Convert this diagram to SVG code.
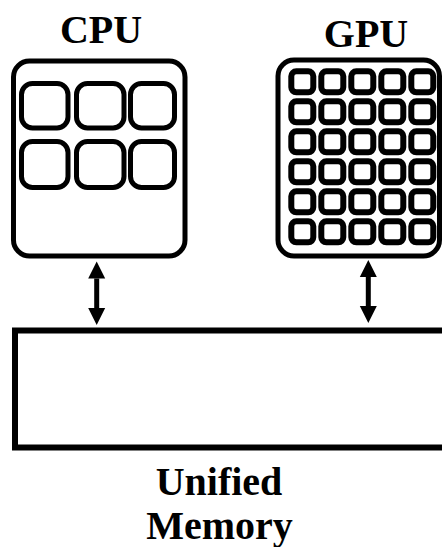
<svg xmlns="http://www.w3.org/2000/svg" width="442" height="547" viewBox="0 0 442 547">
  <style>
    .box { fill: #ffffff; stroke: #000000; stroke-width: 5; }
    .cell { fill: #ffffff; stroke: #000000; stroke-width: 5; }
    .gcell { fill: #ffffff; stroke: #000000; stroke-width: 6; }
    .label { font-family: "Liberation Serif", "Times New Roman", serif; font-weight: bold; font-size: 40px; fill: #000000; text-anchor: middle; }
    .conn { stroke: #000000; stroke-width: 5; fill: none; }
  </style>
  <defs>
    <marker id="head" markerUnits="userSpaceOnUse" markerWidth="18" markerHeight="18" viewBox="0 -9 18 18" refX="0" refY="0" orient="auto-start-reverse">
      <path d="M0,-8.5 L17,0 L0,8.5 z" fill="#000000"/>
    </marker>
  </defs>
  <rect width="442" height="547" fill="#ffffff"/>

  <g id="cpu">
    <text class="label" x="101" y="43">CPU</text>
    <rect class="box" x="13.5" y="61" width="171.5" height="195" rx="16"/>
    <rect class="cell" x="21.5" y="83.5" width="46.5" height="44.5" rx="11"/>
    <rect class="cell" x="76.5" y="83.5" width="47.5" height="44.5" rx="11"/>
    <rect class="cell" x="130.5" y="83.5" width="44" height="44.5" rx="11"/>
    <rect class="cell" x="21.5" y="141.5" width="46.5" height="46" rx="11"/>
    <rect class="cell" x="76.5" y="141.5" width="47.5" height="46" rx="11"/>
    <rect class="cell" x="130.5" y="141.5" width="44" height="46" rx="11"/>
  </g>

  <g id="gpu">
    <text class="label" x="366" y="47">GPU</text>
    <rect class="box" x="278" y="60" width="161.5" height="196" rx="16"/>
    <g id="gpu-cores">
      <rect class="gcell" x="291.3" y="71.3" width="22" height="21" rx="5"/>
      <rect class="gcell" x="321.3" y="71.3" width="22" height="21" rx="5"/>
      <rect class="gcell" x="351.3" y="71.3" width="22" height="21" rx="5"/>
      <rect class="gcell" x="381.3" y="71.3" width="22" height="21" rx="5"/>
      <rect class="gcell" x="411.3" y="71.3" width="22" height="21" rx="5"/>

      <rect class="gcell" x="291.3" y="101.3" width="22" height="21" rx="5"/>
      <rect class="gcell" x="321.3" y="101.3" width="22" height="21" rx="5"/>
      <rect class="gcell" x="351.3" y="101.3" width="22" height="21" rx="5"/>
      <rect class="gcell" x="381.3" y="101.3" width="22" height="21" rx="5"/>
      <rect class="gcell" x="411.3" y="101.3" width="22" height="21" rx="5"/>

      <rect class="gcell" x="291.3" y="131.3" width="22" height="21" rx="5"/>
      <rect class="gcell" x="321.3" y="131.3" width="22" height="21" rx="5"/>
      <rect class="gcell" x="351.3" y="131.3" width="22" height="21" rx="5"/>
      <rect class="gcell" x="381.3" y="131.3" width="22" height="21" rx="5"/>
      <rect class="gcell" x="411.3" y="131.3" width="22" height="21" rx="5"/>

      <rect class="gcell" x="291.3" y="161.3" width="22" height="21" rx="5"/>
      <rect class="gcell" x="321.3" y="161.3" width="22" height="21" rx="5"/>
      <rect class="gcell" x="351.3" y="161.3" width="22" height="21" rx="5"/>
      <rect class="gcell" x="381.3" y="161.3" width="22" height="21" rx="5"/>
      <rect class="gcell" x="411.3" y="161.3" width="22" height="21" rx="5"/>

      <rect class="gcell" x="291.3" y="191.3" width="22" height="21" rx="5"/>
      <rect class="gcell" x="321.3" y="191.3" width="22" height="21" rx="5"/>
      <rect class="gcell" x="351.3" y="191.3" width="22" height="21" rx="5"/>
      <rect class="gcell" x="381.3" y="191.3" width="22" height="21" rx="5"/>
      <rect class="gcell" x="411.3" y="191.3" width="22" height="21" rx="5"/>

      <rect class="gcell" x="291.3" y="221.3" width="22" height="21" rx="5"/>
      <rect class="gcell" x="321.3" y="221.3" width="22" height="21" rx="5"/>
      <rect class="gcell" x="351.3" y="221.3" width="22" height="21" rx="5"/>
      <rect class="gcell" x="381.3" y="221.3" width="22" height="21" rx="5"/>
      <rect class="gcell" x="411.3" y="221.3" width="22" height="21" rx="5"/>
    </g>
  </g>

  <g id="memory">
    <rect class="box" x="15" y="330.5" width="440" height="117" style="stroke-width:6"/>
    <text class="label" x="219" y="495">Unified</text>
    <text class="label" x="219.5" y="539">Memory</text>
  </g>

  <g id="connectors">
    <line class="conn" x1="96.7" y1="278.5" x2="96.7" y2="308" marker-start="url(#head)" marker-end="url(#head)"/>
    <line class="conn" x1="368.3" y1="277" x2="368.3" y2="306" marker-start="url(#head)" marker-end="url(#head)"/>
  </g>
</svg>
